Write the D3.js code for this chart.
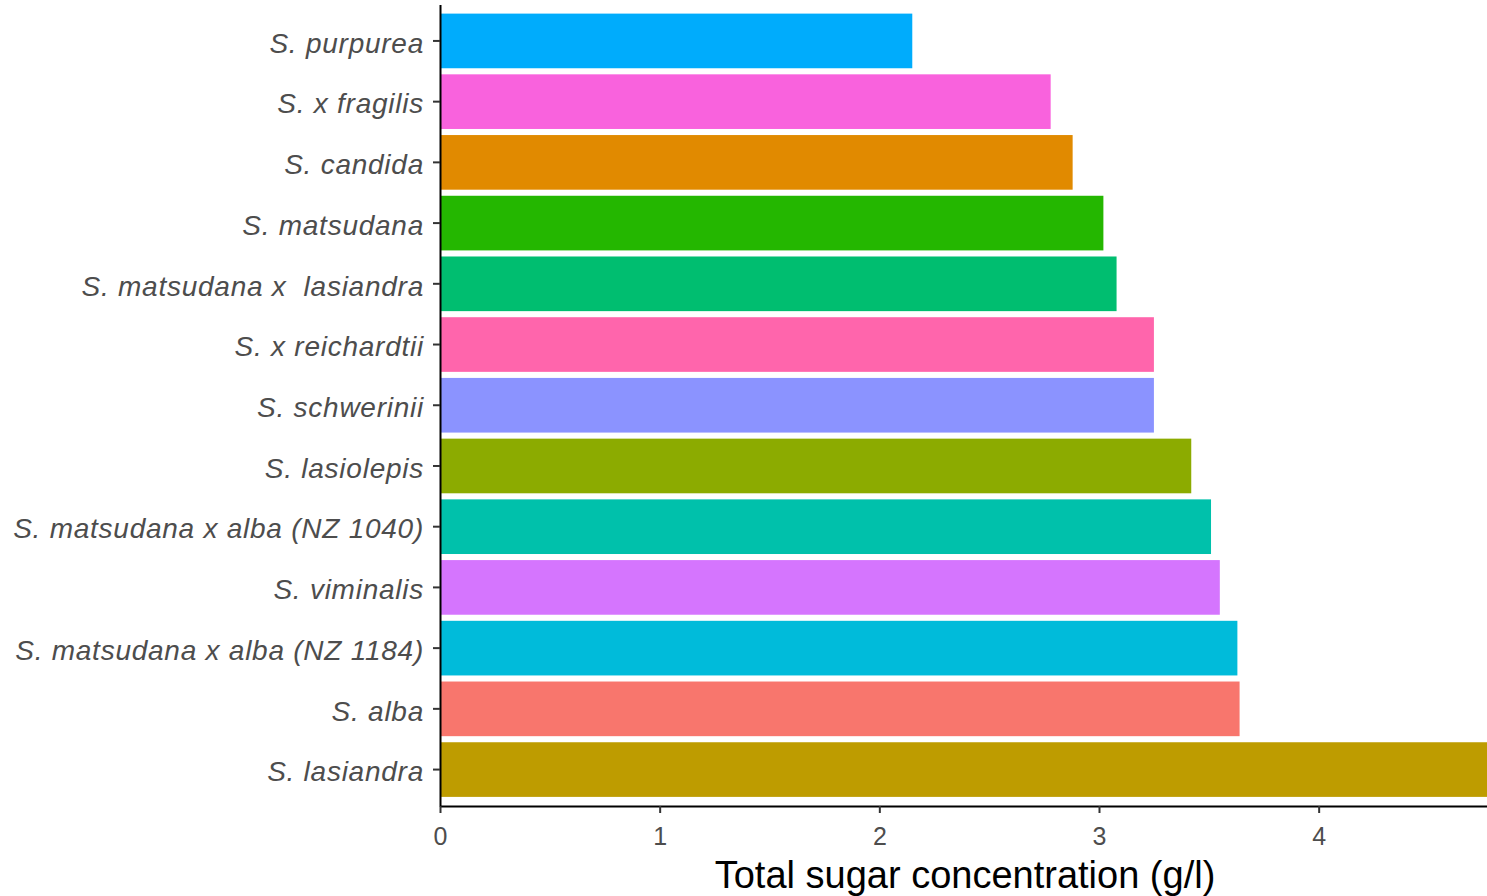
<!DOCTYPE html>
<html>
<head>
<meta charset="utf-8">
<script src="https://cdn.jsdelivr.net/npm/d3@7"></script>
<style>
  body { margin: 0; background: #fff; }
  svg { display: block; }
</style>
</head>
<body>
<div id="chart"></div>
<script>
// species, top to bottom
const species = [
  "S. purpurea", "S. x fragilis", "S. candida", "S. matsudana",
  "S. matsudana x  lasiandra", "S. x reichardtii", "S. schwerinii",
  "S. lasiolepis", "S. matsudana x alba (NZ 1040)", "S. viminalis",
  "S. matsudana x alba (NZ 1184)", "S. alba", "S. lasiandra"
];
// total sugar, g/l
const sugar = [2.15, 2.78, 2.88, 3.02, 3.08, 3.25, 3.25, 3.42, 3.51, 3.55, 3.63, 3.64, 4.78];
const colors = [
  "#00ACFC", "#F962DD", "#E18A00", "#24B700", "#00BE70", "#FF65AC", "#8B93FF",
  "#8CAB00", "#00C1AB", "#D575FE", "#00BBDA", "#F8766D", "#BE9C00"
];
const xTicks = [0, 1, 2, 3, 4];

const data = species.map((s, i) => ({name: s, value: sugar[i], color: colors[i]}));

const W = 1487, H = 896;
const margin = {top: 4.5, left: 440, right: -3, bottom: 90};
const plotW = W - margin.left - margin.right,
      plotH = H - margin.top - margin.bottom;

const svg = d3.select("#chart").append("svg")
    .attr("width", W)
    .attr("height", H);

const g = svg.append("g")
    .attr("transform", `translate(${margin.left},${margin.top})`);

// ggplot style: bar width 0.9, 0.6 unit expansion each side
const y = d3.scaleBand()
    .domain(species)
    .range([0, plotH])
    .paddingInner(0.1)
    .paddingOuter(0.15);

const x = d3.scaleLinear()
    .domain([0, 4.78])
    .range([0, plotW]);

// bars
g.selectAll("rect.bar")
    .data(data)
    .enter().append("rect")
    .attr("class", "bar")
    .attr("x", 0)
    .attr("y", d => y(d.name))
    .attr("width", d => x(d.value))
    .attr("height", y.bandwidth())
    .attr("fill", d => d.color);

// y axis
const yAxis = g.append("g")
    .call(d3.axisLeft(y).tickSize(7).tickPadding(9).tickSizeOuter(0));
yAxis.select(".domain").attr("stroke", "#000").attr("stroke-width", 2);
yAxis.selectAll(".tick line").attr("stroke", "#333").attr("stroke-width", 2);
yAxis.selectAll(".tick text")
    .attr("font-family", "Liberation Sans, Arial, sans-serif")
    .attr("font-style", "italic")
    .attr("font-size", 28)
    .attr("letter-spacing", 0.75)
    .attr("dy", "0.42em")
    .attr("fill", "#4D4D4D")
    .style("white-space", "pre");

// x axis
const xAxis = g.append("g")
    .attr("transform", `translate(0,${plotH})`)
    .call(d3.axisBottom(x).tickValues(xTicks).tickFormat(d3.format("d"))
      .tickSize(7).tickPadding(14).tickSizeOuter(0));
xAxis.select(".domain").attr("stroke", "#000").attr("stroke-width", 2);
xAxis.selectAll(".tick line").attr("stroke", "#333").attr("stroke-width", 2);
xAxis.selectAll(".tick text")
    .attr("font-family", "Liberation Sans, Arial, sans-serif")
    .attr("font-size", 25)
    .attr("fill", "#4D4D4D");

// axis title
svg.append("text")
    .attr("x", margin.left + plotW / 2)
    .attr("y", 888)
    .attr("text-anchor", "middle")
    .attr("font-family", "Liberation Sans, Arial, sans-serif")
    .attr("font-size", 38)
    .attr("fill", "#000")
    .text("Total sugar concentration (g/l)");
</script>
</body>
</html>
